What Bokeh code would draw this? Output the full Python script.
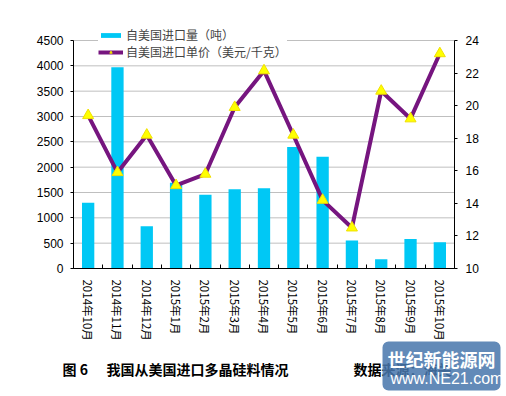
from bokeh.plotting import figure
from bokeh.models import (Range1d, LinearAxis, FixedTicker, Legend, LegendItem,
                          Label, BoxAnnotation)
from bokeh.embed import file_html
from bokeh.resources import INLINE

months = ["2014年10月", "2014年11月", "2014年12月", "2015年1月", "2015年2月",
          "2015年3月", "2015年4月", "2015年5月", "2015年6月", "2015年7月",
          "2015年8月", "2015年9月", "2015年10月"]
volume = [1300, 3970, 835, 1690, 1455, 1565, 1585, 2400, 2205, 555, 185, 580, 520]
price = [19.4, 15.9, 18.2, 15.1, 15.8, 19.9, 22.15, 18.2, 14.2, 12.5, 20.9, 19.2, 23.2]
left_ticks = [0, 500, 1000, 1500, 2000, 2500, 3000, 3500, 4000, 4500]
right_ticks = [10, 12, 14, 16, 18, 20, 22, 24]
vol_name = "自美国进口量（吨）"
price_name = "自美国进口单价（美元/千克）"
caption_fig = "图 6"
caption_title = "我国从美国进口多晶硅料情况"
caption_src = "数据来源：海关"
wm_cn = "世纪新能源网"
wm_en = "www.NE21.com"

FONT = "Noto Sans CJK SC"
NUMFONT = "Liberation Sans"
W, H = 506, 396
# plot-area pixel box (layout)
PL, PR, PT, PB = 73, 454, 40, 268
n = len(months)
xs = list(range(1, n + 1))
x_lo, x_hi = xs[0] - 0.5, xs[-1] + 0.5
ppx = (PR - PL) / (x_hi - x_lo)
y_lo, y_hi = left_ticks[0], left_ticks[-1]
ppy = (PB - PT) / (y_hi - y_lo)
r_lo, r_hi = right_ticks[0], right_ticks[-1]
ppr = (PB - PT) / (r_hi - r_lo)

p = figure(width=W, height=H, output_backend="svg", toolbar_location=None, title=None,
           x_range=Range1d(x_lo - PL / ppx, x_hi + (W - PR) / ppx),
           y_range=Range1d(y_lo - (H - PB) / ppy, y_hi + PT / ppy),
           min_border=0, min_border_left=0, min_border_right=0,
           min_border_top=0, min_border_bottom=0)
p.extra_y_ranges = {"price": Range1d(r_lo - (H - PB) / ppr, r_hi + PT / ppr)}
p.outline_line_color = None
p.background_fill_color = "white"
p.border_fill_color = "white"
p.xgrid.visible = False
p.ygrid.visible = False

# horizontal gridlines across the plot area only
p.segment(x0=x_lo, x1=x_hi, y0=left_ticks, y1=left_ticks,
          line_color="#BFBFBF", line_width=1)

# left axis
ya = p.yaxis[0]
ya.fixed_location = x_lo
ya.bounds = (y_lo, y_hi)
ya.ticker = FixedTicker(ticks=left_ticks)
ya.major_tick_out = 3
ya.major_tick_in = 0
ya.minor_tick_line_color = None
ya.axis_line_color = "black"
ya.major_label_text_font = NUMFONT
ya.major_label_text_font_size = "12px"
ya.major_label_text_color = "black"
ya.major_label_standoff = 7

# right axis
ra = LinearAxis(y_range_name="price", ticker=FixedTicker(ticks=right_ticks),
                fixed_location=x_hi, bounds=(r_lo, r_hi))
ra.major_tick_out = 3
ra.major_tick_in = 0
ra.minor_tick_line_color = None
ra.axis_line_color = "black"
ra.major_label_text_font = NUMFONT
ra.major_label_text_font_size = "12px"
ra.major_label_text_color = "black"
ra.major_label_standoff = 8
p.add_layout(ra, "right")

# bottom axis
xa = p.xaxis[0]
xa.fixed_location = y_lo
xa.bounds = (x_lo, x_hi)
xa.ticker = FixedTicker(ticks=xs, minor_ticks=[x - 0.5 for x in xs] + [x_hi])
xa.major_label_overrides = {x: m for x, m in zip(xs, months)}
xa.major_label_orientation = "vertical"
xa.major_tick_line_color = None
xa.minor_tick_in = 4
xa.minor_tick_out = 0
xa.minor_tick_line_color = "black"
xa.axis_line_color = "black"
xa.major_label_text_font = FONT
xa.major_label_text_font_size = "11.5px"
xa.major_label_text_color = "black"
xa.major_label_standoff = 5

bars = p.vbar(x=xs, top=volume, width=0.42, fill_color="#00C8F5", line_color=None)
ln = p.line(xs, price, y_range_name="price", line_color="#76157F", line_width=4)
tri = p.scatter(xs, price, y_range_name="price", marker="triangle", size=11,
                fill_color="#FFFF00", line_color="#F0E000")

legend = Legend(items=[LegendItem(label=vol_name, renderers=[bars]),
                       LegendItem(label=price_name, renderers=[ln, tri])],
                location=(98, H - 60), background_fill_color="white",
                background_fill_alpha=1, border_line_color=None,
                glyph_width=25, glyph_height=6, label_height=15,
                label_standoff=3, spacing=0, padding=3, margin=0,
                label_text_font=FONT, label_text_font_size="12px")
p.add_layout(legend, "center")

# caption
for txt, x in [(caption_fig, 62), (caption_title, 106), (caption_src, 353)]:
    p.add_layout(Label(x=x, y=H - 368, x_units="screen", y_units="screen", text=txt,
                       text_font=FONT, text_font_style="bold",
                       text_font_size="14px", text_baseline="middle",
                       text_color="black"))

# watermark
p.add_layout(BoxAnnotation(left=382, right=500, top=H - 341, bottom=H - 390,
                           left_units="screen", right_units="screen",
                           top_units="screen", bottom_units="screen",
                           fill_color="#4877AC", fill_alpha=0.86, line_color=None,
                           border_radius=6))
p.add_layout(Label(x=387, y=H - 358, x_units="screen", y_units="screen", text=wm_cn,
                   text_font=FONT, text_font_style="bold", text_font_size="18px",
                   text_baseline="middle", text_color="white"))
p.add_layout(Label(x=390, y=H - 378, x_units="screen", y_units="screen", text=wm_en,
                   text_font=NUMFONT, text_font_size="16px",
                   text_baseline="middle", text_color="white"))

open("out.html", "w").write(file_html(p, INLINE))
